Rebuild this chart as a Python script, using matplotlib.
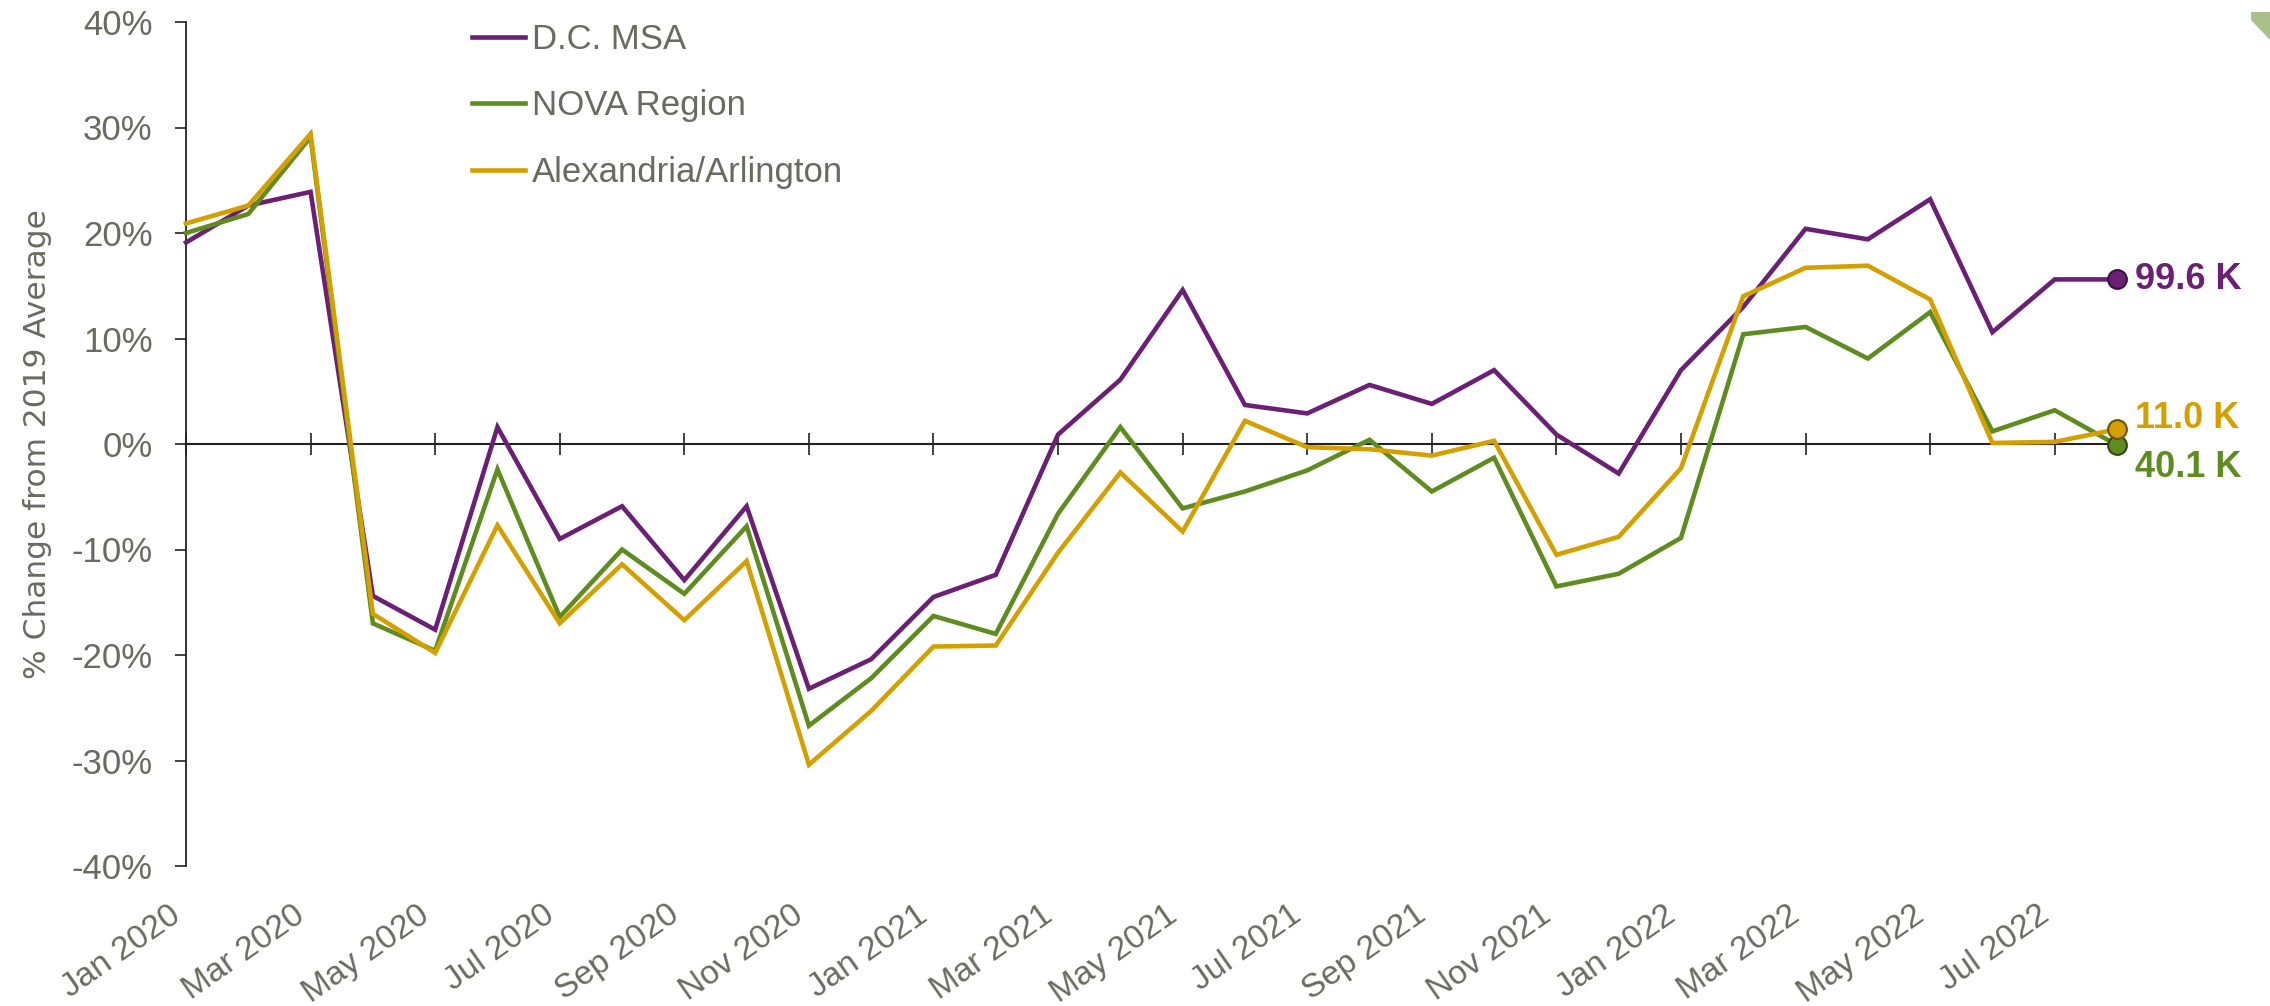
import matplotlib
matplotlib.use("Agg")
import matplotlib.pyplot as plt
from matplotlib.patches import Polygon
import numpy as np

# ---------------- data ----------------
months = ["Jan 2020", "Feb 2020", "Mar 2020", "Apr 2020", "May 2020", "Jun 2020",
          "Jul 2020", "Aug 2020", "Sep 2020", "Oct 2020", "Nov 2020", "Dec 2020",
          "Jan 2021", "Feb 2021", "Mar 2021", "Apr 2021", "May 2021", "Jun 2021",
          "Jul 2021", "Aug 2021", "Sep 2021", "Oct 2021", "Nov 2021", "Dec 2021",
          "Jan 2022", "Feb 2022", "Mar 2022", "Apr 2022", "May 2022", "Jun 2022",
          "Jul 2022", "Aug 2022"]

dc_msa = [19.1, 22.6, 23.9, -14.4, -17.6, 1.6, -9.0, -5.9, -12.9, -5.9, -23.2, -20.4,
          -14.5, -12.4, 0.9, 6.1, 14.6, 3.7, 2.9, 5.6, 3.8, 7.0, 0.9, -2.8,
          7.0, 13.0, 20.4, 19.4, 23.2, 10.6, 15.6, 15.6]

nova_region = [20.0, 21.8, 29.1, -17.0, -19.6, -2.4, -16.4, -10.0, -14.2, -7.8, -26.7, -22.2,
               -16.3, -18.0, -6.6, 1.6, -6.1, -4.5, -2.5, 0.4, -4.5, -1.3, -13.5, -12.3,
               -8.9, 10.4, 11.1, 8.1, 12.5, 1.2, 3.2, -0.1]

alex_arlington = [20.9, 22.6, 29.4, -16.1, -19.8, -7.7, -17.0, -11.4, -16.7, -11.1, -30.4, -25.3,
                  -19.2, -19.1, -10.3, -2.7, -8.3, 2.2, -0.3, -0.5, -1.1, 0.3, -10.5, -8.8,
                  -2.3, 14.0, 16.7, 16.9, 13.7, 0.1, 0.2, 1.4]

series_names = ["D.C. MSA", "NOVA Region", "Alexandria/Arlington"]
end_labels = ["99.6 K", "40.1 K", "11.0 K"]
y_ticks = [-40, -30, -20, -10, 0, 10, 20, 30, 40]
x_label_step = 2

# ---------------- style ----------------
plt.rcParams["font.family"] = ["Liberation Sans", "DejaVu Sans"]
GRAY = "#686b5f"
AXIS = "#222222"
colors = ["#6b1f75", "#5f8c1e", "#d4a000"]
edge_colors = ["#3a0d40", "#2e4a0e", "#6e5200"]
label_offsets = [(13, 0), (13, -16), (13, 8)]

W, H = 2270, 1006
fig = plt.figure(figsize=(W / 100, H / 100), dpi=100)
fig.patch.set_facecolor("white")
ax = fig.add_axes([186 / W, 1 - 866 / H, (2117 - 186) / W, (866 - 22) / H])

x = np.arange(len(months))
data = [dc_msa, nova_region, alex_arlington]
for vals, name, c, ec, lab, off in zip(data, series_names, colors, edge_colors,
                                       end_labels, label_offsets):
    ax.plot(x, vals, color=c, lw=3.3, label=name, solid_joinstyle="miter",
            clip_on=False, zorder=3)
    ax.plot(x[-1], vals[-1], "o", ms=13.5, mfc=c, mec=ec, mew=1.5,
            clip_on=False, zorder=5)
    ax.annotate(lab, xy=(x[-1], vals[-1]), xytext=off, textcoords="offset points",
                ha="left", va="center", fontsize=26, fontweight="bold", color=c,
                annotation_clip=False)

ax.set_xlim(0, len(months) - 1)
ax.set_ylim(-40, 40)

# spines
for s in ["top", "right"]:
    ax.spines[s].set_visible(False)
ax.spines["left"].set_color(AXIS)
ax.spines["left"].set_linewidth(1.3)
ax.spines["bottom"].set_position(("data", 0))
ax.spines["bottom"].set_color(AXIS)
ax.spines["bottom"].set_linewidth(1.5)

# y ticks
ax.set_yticks(y_ticks)
ax.set_yticklabels([f"{v}%" for v in y_ticks])
ax.tick_params(axis="y", direction="out", length=8, width=1.2, color=AXIS,
               labelsize=25, labelcolor=GRAY, pad=16)

# x ticks on zero line (marks only)
tick_pos = x[::x_label_step]
ax.set_xticks(tick_pos)
ax.tick_params(axis="x", direction="inout", length=16, width=1.2, color=AXIS,
               labelbottom=False)

# x tick labels at the bottom
sec = ax.secondary_xaxis("bottom")
sec.set_xticks(tick_pos)
sec.set_xticklabels([months[i] for i in tick_pos], rotation=35, ha="right")
sec.tick_params(axis="x", length=0, labelsize=24, labelcolor=GRAY, pad=24)
sec.spines["bottom"].set_visible(False)

ax.set_ylabel("% Change from 2019 Average", fontsize=22.5, color=GRAY,
              family="DejaVu Sans")
ax.yaxis.set_label_coords(-(186 - 52) / (2117 - 186), 0.5)

leg = ax.legend(loc="upper left", bbox_to_anchor=(472 / W, 1 - 23 / H),
                bbox_transform=fig.transFigure, frameon=False, fontsize=25,
                handlelength=1.53, handletextpad=0.2, labelspacing=0.96,
                borderpad=0, borderaxespad=0)
for t in leg.get_texts():
    t.set_color(GRAY)
for h in leg.get_lines():
    h.set_linewidth(3.3)

# decorative corner triangle
tri = Polygon([(2251 / W, 1 - 12 / H), (2270 / W, 1 - 12 / H), (2270 / W, 1 - 40 / H),
               (2251 / W, 1 - 20 / H)], closed=True, transform=fig.transFigure,
              facecolor="#a9c08b", edgecolor="none")
fig.patches.append(tri)

fig.savefig("out.png", dpi=100, facecolor="white")
